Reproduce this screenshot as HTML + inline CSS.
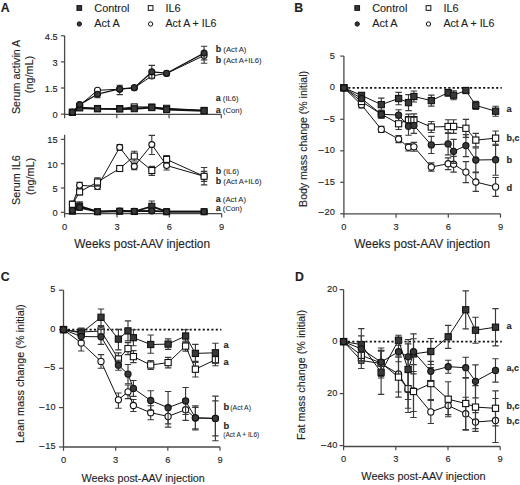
<!DOCTYPE html><html><head><meta charset="utf-8"><title>Figure</title><style>html,body{margin:0;padding:0;background:#fff;}</style></head><body><svg width="520" height="485" viewBox="0 0 520 485" style="display:block" font-family='"Liberation Sans", sans-serif' fill="#1e1e1e">
<style>text{stroke:#1e1e1e;stroke-width:0.12px;paint-order:stroke}.s{stroke-width:0.05px}</style>
<rect width="520" height="485" fill="#fff"/>
<text x="0.8" y="12" font-size="12.3" font-weight="bold">A</text>
<rect x="76.95" y="5.65" width="4.7" height="4.7" fill="#383838" stroke="#111" stroke-width="1.0"/>
<text x="94.3" y="11.5" font-size="10.9">Control</text>
<circle cx="79.3" cy="24" r="2.15" fill="#383838" stroke="#111" stroke-width="1.0"/>
<text x="94.3" y="27.2" font-size="10.9">Act A</text>
<rect x="148.25" y="5.65" width="4.7" height="4.7" fill="#fff" stroke="#111" stroke-width="1.0"/>
<text x="165.5" y="11.5" font-size="10.9">IL6</text>
<circle cx="150.6" cy="24" r="2.15" fill="#fff" stroke="#111" stroke-width="1.0"/>
<text x="165.5" y="27.2" font-size="10.9" textLength="51" lengthAdjust="spacingAndGlyphs">Act A + IL6</text>
<line x1="64.6" y1="35.8" x2="64.6" y2="114.1" stroke="#484848" stroke-width="1.3"/>
<line x1="60.9" y1="35.8" x2="64.6" y2="35.8" stroke="#484848" stroke-width="1.2"/>
<text transform="translate(57.7 39.6) scale(1 1.06)" font-size="9.3" text-anchor="end">4.5</text>
<line x1="60.9" y1="61.9" x2="64.6" y2="61.9" stroke="#484848" stroke-width="1.2"/>
<text transform="translate(57.7 65.7) scale(1 1.06)" font-size="9.3" text-anchor="end">3</text>
<line x1="60.9" y1="88" x2="64.6" y2="88" stroke="#484848" stroke-width="1.2"/>
<text transform="translate(57.7 91.8) scale(1 1.06)" font-size="9.3" text-anchor="end">1.5</text>
<line x1="60.9" y1="114.1" x2="64.6" y2="114.1" stroke="#484848" stroke-width="1.2"/>
<text transform="translate(57.7 117.9) scale(1 1.06)" font-size="9.3" text-anchor="end">0</text>
<line x1="63.95" y1="114.4" x2="221.3" y2="114.4" stroke="#484848" stroke-width="1.3"/>
<line x1="64.6" y1="114.4" x2="64.6" y2="118.2" stroke="#484848" stroke-width="1.2"/>
<line x1="116.83" y1="114.4" x2="116.83" y2="118.2" stroke="#484848" stroke-width="1.2"/>
<line x1="169.07" y1="114.4" x2="169.07" y2="118.2" stroke="#484848" stroke-width="1.2"/>
<line x1="221.3" y1="114.4" x2="221.3" y2="118.2" stroke="#484848" stroke-width="1.2"/>
<text x="19.6" y="76.9" font-size="10.7" text-anchor="middle" transform="rotate(-90 19.6 76.9)">Serum activin A</text>
<text x="32.9" y="74.6" font-size="10.8" text-anchor="middle" transform="rotate(-90 32.9 74.6)">(ng/mL)</text>
<path d="M151.8 75.9V78.2M148.6 78.2H155M204.1 55.5V59.8M200.9 59.8H207.3" fill="none" stroke="#3a3a3a" stroke-width="1.15"/>
<path d="M72.4 112.3 L79.6 105.5 L97.5 90.3 L119.7 89.2 L134.3 87.8 L151.8 75.9 L166.6 73.5 L204.1 55.5" fill="none" stroke="#111" stroke-width="1" stroke-linejoin="round"/>
<circle cx="72.4" cy="112.3" r="3" fill="#fff" stroke="#111" stroke-width="1.1"/>
<circle cx="79.6" cy="105.5" r="3" fill="#fff" stroke="#111" stroke-width="1.1"/>
<circle cx="97.5" cy="90.3" r="3" fill="#fff" stroke="#111" stroke-width="1.1"/>
<circle cx="119.7" cy="89.2" r="3" fill="#fff" stroke="#111" stroke-width="1.1"/>
<circle cx="134.3" cy="87.8" r="3" fill="#fff" stroke="#111" stroke-width="1.1"/>
<circle cx="151.8" cy="75.9" r="3" fill="#fff" stroke="#111" stroke-width="1.1"/>
<circle cx="166.6" cy="73.5" r="3" fill="#fff" stroke="#111" stroke-width="1.1"/>
<circle cx="204.1" cy="55.5" r="3" fill="#fff" stroke="#111" stroke-width="1.1"/>
<path d="M72.4 112.3 L79.6 107.3 L97.5 108.5 L119.7 108.6 L134.3 106.9 L151.8 107 L166.6 108.3 L204.1 110.4" fill="none" stroke="#111" stroke-width="1" stroke-linejoin="round"/>
<rect x="69.4" y="109.3" width="6" height="6" fill="#fff" stroke="#111" stroke-width="1.1"/>
<rect x="76.6" y="104.3" width="6" height="6" fill="#fff" stroke="#111" stroke-width="1.1"/>
<rect x="94.5" y="105.5" width="6" height="6" fill="#fff" stroke="#111" stroke-width="1.1"/>
<rect x="116.7" y="105.6" width="6" height="6" fill="#fff" stroke="#111" stroke-width="1.1"/>
<rect x="131.3" y="103.9" width="6" height="6" fill="#fff" stroke="#111" stroke-width="1.1"/>
<rect x="148.8" y="104" width="6" height="6" fill="#fff" stroke="#111" stroke-width="1.1"/>
<rect x="163.6" y="105.3" width="6" height="6" fill="#fff" stroke="#111" stroke-width="1.1"/>
<rect x="201.1" y="107.4" width="6" height="6" fill="#fff" stroke="#111" stroke-width="1.1"/>
<path d="M72.4 112.3 L79.6 107.9 L97.5 108.8 L119.7 109 L134.3 108.7 L151.8 107.6 L166.6 109.6 L204.1 110.8" fill="none" stroke="#111" stroke-width="2" stroke-linejoin="round"/>
<rect x="69.4" y="109.3" width="6" height="6" fill="#383838" stroke="#111" stroke-width="1.1"/>
<rect x="76.6" y="104.9" width="6" height="6" fill="#383838" stroke="#111" stroke-width="1.1"/>
<rect x="94.5" y="105.8" width="6" height="6" fill="#383838" stroke="#111" stroke-width="1.1"/>
<rect x="116.7" y="106" width="6" height="6" fill="#383838" stroke="#111" stroke-width="1.1"/>
<rect x="131.3" y="105.7" width="6" height="6" fill="#383838" stroke="#111" stroke-width="1.1"/>
<rect x="148.8" y="104.6" width="6" height="6" fill="#383838" stroke="#111" stroke-width="1.1"/>
<rect x="163.6" y="106.6" width="6" height="6" fill="#383838" stroke="#111" stroke-width="1.1"/>
<rect x="201.1" y="107.8" width="6" height="6" fill="#383838" stroke="#111" stroke-width="1.1"/>
<path d="M97.5 94.2V97.7M94.3 97.7H100.7M119.7 88.9V85.2M116.5 85.2H122.9M119.7 88.9V94.6M116.5 94.6H122.9M151.8 71.9V65.4M148.6 65.4H155M151.8 71.9V78.4M148.6 78.4H155M204.1 53.1V46.2M200.9 46.2H207.3M204.1 53.1V63.2M200.9 63.2H207.3" fill="none" stroke="#3a3a3a" stroke-width="1.15"/>
<path d="M72.4 112.3 L79.6 104.6 L97.5 94.2 L119.7 88.9 L134.3 87.8 L151.8 71.9 L166.6 73.2 L204.1 53.1" fill="none" stroke="#111" stroke-width="1.3" stroke-linejoin="round"/>
<circle cx="72.4" cy="112.3" r="3" fill="#383838" stroke="#111" stroke-width="1.1"/>
<circle cx="79.6" cy="104.6" r="3" fill="#383838" stroke="#111" stroke-width="1.1"/>
<circle cx="97.5" cy="94.2" r="3" fill="#383838" stroke="#111" stroke-width="1.1"/>
<circle cx="119.7" cy="88.9" r="3" fill="#383838" stroke="#111" stroke-width="1.1"/>
<circle cx="134.3" cy="87.8" r="3" fill="#383838" stroke="#111" stroke-width="1.1"/>
<circle cx="151.8" cy="71.9" r="3" fill="#383838" stroke="#111" stroke-width="1.1"/>
<circle cx="166.6" cy="73.2" r="3" fill="#383838" stroke="#111" stroke-width="1.1"/>
<circle cx="204.1" cy="53.1" r="3" fill="#383838" stroke="#111" stroke-width="1.1"/>
<text x="215.8" y="52"><tspan font-size="8.9" font-weight="bold">b</tspan><tspan class="s" font-size="7.7"> (Act A)</tspan></text>
<text x="215.8" y="62.5"><tspan font-size="8.9" font-weight="bold">b</tspan><tspan class="s" font-size="7.7"> (Act A+IL6)</tspan></text>
<text x="215.8" y="100.7"><tspan font-size="8.9" font-weight="bold">a</tspan><tspan class="s" font-size="7.7"> (IL6)</tspan></text>
<text x="215.8" y="112.5"><tspan font-size="8.9" font-weight="bold">a</tspan><tspan class="s" font-size="7.7"> (Con)</tspan></text>
<line x1="64.6" y1="134.8" x2="64.6" y2="213.6" stroke="#484848" stroke-width="1.3"/>
<line x1="60.9" y1="139.4" x2="64.6" y2="139.4" stroke="#484848" stroke-width="1.2"/>
<text transform="translate(57.7 143.3) scale(1 1.06)" font-size="9.3" text-anchor="end">15</text>
<line x1="60.9" y1="163.7" x2="64.6" y2="163.7" stroke="#484848" stroke-width="1.2"/>
<text transform="translate(57.7 167.6) scale(1 1.06)" font-size="9.3" text-anchor="end">10</text>
<line x1="60.9" y1="188" x2="64.6" y2="188" stroke="#484848" stroke-width="1.2"/>
<text transform="translate(57.7 191.9) scale(1 1.06)" font-size="9.3" text-anchor="end">5</text>
<line x1="60.9" y1="212.3" x2="64.6" y2="212.3" stroke="#484848" stroke-width="1.2"/>
<text transform="translate(57.7 216.2) scale(1 1.06)" font-size="9.3" text-anchor="end">0</text>
<line x1="63.95" y1="213.6" x2="221.7" y2="213.6" stroke="#484848" stroke-width="1.3"/>
<line x1="64.6" y1="213.6" x2="64.6" y2="217.4" stroke="#484848" stroke-width="1.2"/>
<text transform="translate(64.6 229.9) scale(1 1.06)" font-size="9.3" text-anchor="middle">0</text>
<line x1="116.97" y1="213.6" x2="116.97" y2="217.4" stroke="#484848" stroke-width="1.2"/>
<text transform="translate(116.97 229.9) scale(1 1.06)" font-size="9.3" text-anchor="middle">3</text>
<line x1="169.33" y1="213.6" x2="169.33" y2="217.4" stroke="#484848" stroke-width="1.2"/>
<text transform="translate(169.33 229.9) scale(1 1.06)" font-size="9.3" text-anchor="middle">6</text>
<line x1="221.7" y1="213.6" x2="221.7" y2="217.4" stroke="#484848" stroke-width="1.2"/>
<text transform="translate(221.7 229.9) scale(1 1.06)" font-size="9.3" text-anchor="middle">9</text>
<text x="20" y="180.05" font-size="10.8" text-anchor="middle" transform="rotate(-90 20 180.05)">Serum IL6</text>
<text x="33.6" y="176.4" font-size="10.8" text-anchor="middle" transform="rotate(-90 33.6 176.4)">(ng/mL)</text>
<path d="M72.4 204.3V201.3M69.2 201.3H75.6M72.4 204.3V207.3M69.2 207.3H75.6M79.6 185.3V182.3M76.4 182.3H82.8M79.6 185.3V188.3M76.4 188.3H82.8M97.5 186.5V183.5M94.3 183.5H100.7M97.5 186.5V189.5M94.3 189.5H100.7M119.7 147.4V144.6M116.5 144.6H122.9M119.7 147.4V150.2M116.5 150.2H122.9M134.3 166.4V163.1M131.1 163.1H137.5M134.3 166.4V169.7M131.1 169.7H137.5M151.8 144.6V135.3M148.6 135.3H155M151.8 144.6V154.5M148.6 154.5H155M166.6 165.5V161M163.4 161H169.8M166.6 165.5V170M163.4 170H169.8M204.1 176.3V171.3M200.9 171.3H207.3M204.1 176.3V181.3M200.9 181.3H207.3" fill="none" stroke="#3a3a3a" stroke-width="1.15"/>
<path d="M72.4 204.3 L79.6 185.3 L97.5 186.5 L119.7 147.4 L134.3 166.4 L151.8 144.6 L166.6 165.5 L204.1 176.3" fill="none" stroke="#111" stroke-width="1" stroke-linejoin="round"/>
<circle cx="72.4" cy="204.3" r="3" fill="#fff" stroke="#111" stroke-width="1.1"/>
<circle cx="79.6" cy="185.3" r="3" fill="#fff" stroke="#111" stroke-width="1.1"/>
<circle cx="97.5" cy="186.5" r="3" fill="#fff" stroke="#111" stroke-width="1.1"/>
<circle cx="119.7" cy="147.4" r="3" fill="#fff" stroke="#111" stroke-width="1.1"/>
<circle cx="134.3" cy="166.4" r="3" fill="#fff" stroke="#111" stroke-width="1.1"/>
<circle cx="151.8" cy="144.6" r="3" fill="#fff" stroke="#111" stroke-width="1.1"/>
<circle cx="166.6" cy="165.5" r="3" fill="#fff" stroke="#111" stroke-width="1.1"/>
<circle cx="204.1" cy="176.3" r="3" fill="#fff" stroke="#111" stroke-width="1.1"/>
<path d="M72.4 204.3V201.3M69.2 201.3H75.6M72.4 204.3V207.3M69.2 207.3H75.6M79.6 191.9V188.9M76.4 188.9H82.8M79.6 191.9V194.9M76.4 194.9H82.8M97.5 182V177.9M94.3 177.9H100.7M97.5 182V186.1M94.3 186.1H100.7M119.7 168.5V165.5M116.5 165.5H122.9M119.7 168.5V171.5M116.5 171.5H122.9M134.3 156.1V151.2M131.1 151.2H137.5M134.3 156.1V161M131.1 161H137.5M151.8 170.5V166.4M148.6 166.4H155M151.8 170.5V175.4M148.6 175.4H155M166.6 159.4V155.6M163.4 155.6H169.8M166.6 159.4V163.2M163.4 163.2H169.8M204.1 176.3V167.5M200.9 167.5H207.3M204.1 176.3V184.8M200.9 184.8H207.3" fill="none" stroke="#3a3a3a" stroke-width="1.15"/>
<path d="M72.4 204.3 L79.6 191.9 L97.5 182 L119.7 168.5 L134.3 156.1 L151.8 170.5 L166.6 159.4 L204.1 176.3" fill="none" stroke="#111" stroke-width="1" stroke-linejoin="round"/>
<rect x="69.4" y="201.3" width="6" height="6" fill="#fff" stroke="#111" stroke-width="1.1"/>
<rect x="76.6" y="188.9" width="6" height="6" fill="#fff" stroke="#111" stroke-width="1.1"/>
<rect x="94.5" y="179" width="6" height="6" fill="#fff" stroke="#111" stroke-width="1.1"/>
<rect x="116.7" y="165.5" width="6" height="6" fill="#fff" stroke="#111" stroke-width="1.1"/>
<rect x="131.3" y="153.1" width="6" height="6" fill="#fff" stroke="#111" stroke-width="1.1"/>
<rect x="148.8" y="167.5" width="6" height="6" fill="#fff" stroke="#111" stroke-width="1.1"/>
<rect x="163.6" y="156.4" width="6" height="6" fill="#fff" stroke="#111" stroke-width="1.1"/>
<rect x="201.1" y="173.3" width="6" height="6" fill="#fff" stroke="#111" stroke-width="1.1"/>
<path d="M72.4 211.2V210.2M69.2 210.2H75.6M72.4 211.2V212.2M69.2 212.2H75.6M79.6 206V201.8M76.4 201.8H82.8M79.6 206V210.2M76.4 210.2H82.8M97.5 211.7V211.2M94.3 211.2H100.7M97.5 211.7V212.2M94.3 212.2H100.7M119.7 211.2V210.2M116.5 210.2H122.9M119.7 211.2V212.2M116.5 212.2H122.9M134.3 211.5V210.5M131.1 210.5H137.5M134.3 211.5V212.5M131.1 212.5H137.5M151.8 206.3V201M148.6 201H155M151.8 206.3V211.6M148.6 211.6H155M166.6 211.7V211.2M163.4 211.2H169.8M166.6 211.7V212.2M163.4 212.2H169.8M204.1 211.7V211.2M200.9 211.2H207.3M204.1 211.7V212.2M200.9 212.2H207.3" fill="none" stroke="#3a3a3a" stroke-width="1.15"/>
<path d="M72.4 211.2 L79.6 206 L97.5 211.7 L119.7 211.2 L134.3 211.5 L151.8 206.3 L166.6 211.7 L204.1 211.7" fill="none" stroke="#111" stroke-width="1.8" stroke-linejoin="round"/>
<rect x="69.4" y="208.2" width="6" height="6" fill="#383838" stroke="#111" stroke-width="1.1"/>
<rect x="76.6" y="203" width="6" height="6" fill="#383838" stroke="#111" stroke-width="1.1"/>
<rect x="94.5" y="208.7" width="6" height="6" fill="#383838" stroke="#111" stroke-width="1.1"/>
<rect x="116.7" y="208.2" width="6" height="6" fill="#383838" stroke="#111" stroke-width="1.1"/>
<rect x="131.3" y="208.5" width="6" height="6" fill="#383838" stroke="#111" stroke-width="1.1"/>
<rect x="148.8" y="203.3" width="6" height="6" fill="#383838" stroke="#111" stroke-width="1.1"/>
<rect x="163.6" y="208.7" width="6" height="6" fill="#383838" stroke="#111" stroke-width="1.1"/>
<rect x="201.1" y="208.7" width="6" height="6" fill="#383838" stroke="#111" stroke-width="1.1"/>
<path d="M72.4 210.5V209.5M69.2 209.5H75.6M72.4 210.5V211.5M69.2 211.5H75.6M79.6 207.5V204.5M76.4 204.5H82.8M79.6 207.5V210.5M76.4 210.5H82.8M97.5 211.7V211.2M94.3 211.2H100.7M97.5 211.7V212.2M94.3 212.2H100.7M119.7 211V209.5M116.5 209.5H122.9M119.7 211V212.5M116.5 212.5H122.9M134.3 211.2V210.2M131.1 210.2H137.5M134.3 211.2V212.2M131.1 212.2H137.5M151.8 210.9V208.9M148.6 208.9H155M151.8 210.9V212.9M148.6 212.9H155M166.6 211.7V211.2M163.4 211.2H169.8M166.6 211.7V212.2M163.4 212.2H169.8M204.1 211.7V211.2M200.9 211.2H207.3M204.1 211.7V212.2M200.9 212.2H207.3" fill="none" stroke="#3a3a3a" stroke-width="1.15"/>
<path d="M72.4 210.5 L79.6 207.5 L97.5 211.7 L119.7 211 L134.3 211.2 L151.8 210.9 L166.6 211.7 L204.1 211.7" fill="none" stroke="#111" stroke-width="1.8" stroke-linejoin="round"/>
<circle cx="72.4" cy="210.5" r="3" fill="#383838" stroke="#111" stroke-width="1.1"/>
<circle cx="79.6" cy="207.5" r="3" fill="#383838" stroke="#111" stroke-width="1.1"/>
<circle cx="97.5" cy="211.7" r="3" fill="#383838" stroke="#111" stroke-width="1.1"/>
<circle cx="119.7" cy="211" r="3" fill="#383838" stroke="#111" stroke-width="1.1"/>
<circle cx="134.3" cy="211.2" r="3" fill="#383838" stroke="#111" stroke-width="1.1"/>
<circle cx="151.8" cy="210.9" r="3" fill="#383838" stroke="#111" stroke-width="1.1"/>
<circle cx="166.6" cy="211.7" r="3" fill="#383838" stroke="#111" stroke-width="1.1"/>
<circle cx="204.1" cy="211.7" r="3" fill="#383838" stroke="#111" stroke-width="1.1"/>
<text x="215.8" y="173.55"><tspan font-size="8.9" font-weight="bold">b</tspan><tspan class="s" font-size="7.7"> (IL6)</tspan></text>
<text x="215.8" y="184.45"><tspan font-size="8.9" font-weight="bold">b</tspan><tspan class="s" font-size="7.7"> (Act A+IL6)</tspan></text>
<text x="215.8" y="201.7"><tspan font-size="8.9" font-weight="bold">a</tspan><tspan class="s" font-size="7.7"> (Act A)</tspan></text>
<text x="215.8" y="210.7"><tspan font-size="8.9" font-weight="bold">a</tspan><tspan class="s" font-size="7.7"> (Con)</tspan></text>
<text x="142.2" y="248.2" font-size="11.9" text-anchor="middle">Weeks post-AAV injection</text>
<text x="294.2" y="12" font-size="12.3" font-weight="bold">B</text>
<rect x="354.85" y="5.65" width="4.7" height="4.7" fill="#383838" stroke="#111" stroke-width="1.0"/>
<text x="372.2" y="11.5" font-size="10.9">Control</text>
<circle cx="357.2" cy="24" r="2.15" fill="#383838" stroke="#111" stroke-width="1.0"/>
<text x="372.2" y="27.2" font-size="10.9">Act A</text>
<rect x="426.15" y="5.65" width="4.7" height="4.7" fill="#fff" stroke="#111" stroke-width="1.0"/>
<text x="443.4" y="11.5" font-size="10.9">IL6</text>
<circle cx="428.5" cy="24" r="2.15" fill="#fff" stroke="#111" stroke-width="1.0"/>
<text x="443.4" y="27.2" font-size="10.9" textLength="51" lengthAdjust="spacingAndGlyphs">Act A + IL6</text>
<line x1="343.9" y1="56.1" x2="343.9" y2="213.9" stroke="#484848" stroke-width="1.3"/>
<line x1="340.2" y1="56.1" x2="343.9" y2="56.1" stroke="#484848" stroke-width="1.2"/>
<text transform="translate(334.9 58.7) scale(1 1.06)" font-size="9.3" text-anchor="end">5</text>
<line x1="340.2" y1="87.8" x2="343.9" y2="87.8" stroke="#484848" stroke-width="1.2"/>
<text transform="translate(334.9 89.6) scale(1 1.06)" font-size="9.3" text-anchor="end">0</text>
<line x1="340.2" y1="119.3" x2="343.9" y2="119.3" stroke="#484848" stroke-width="1.2"/>
<text transform="translate(334.9 121.5) scale(1 1.06)" font-size="9.3" text-anchor="end">–<tspan dx="0.8">5</tspan></text>
<line x1="340.2" y1="150.8" x2="343.9" y2="150.8" stroke="#484848" stroke-width="1.2"/>
<text transform="translate(334.9 153.3) scale(1 1.06)" font-size="9.3" text-anchor="end">–<tspan dx="0.8">10</tspan></text>
<line x1="340.2" y1="182.3" x2="343.9" y2="182.3" stroke="#484848" stroke-width="1.2"/>
<text transform="translate(334.9 184.5) scale(1 1.06)" font-size="9.3" text-anchor="end">–<tspan dx="0.8">15</tspan></text>
<line x1="340.2" y1="213.8" x2="343.9" y2="213.8" stroke="#484848" stroke-width="1.2"/>
<text transform="translate(334.9 215.1) scale(1 1.06)" font-size="9.3" text-anchor="end">–<tspan dx="0.8">20</tspan></text>
<line x1="343.25" y1="213.9" x2="500.5" y2="213.9" stroke="#484848" stroke-width="1.3"/>
<line x1="343.9" y1="213.9" x2="343.9" y2="217.7" stroke="#484848" stroke-width="1.2"/>
<text transform="translate(343.9 230.2) scale(1 1.06)" font-size="9.3" text-anchor="middle">0</text>
<line x1="396.1" y1="213.9" x2="396.1" y2="217.7" stroke="#484848" stroke-width="1.2"/>
<text transform="translate(396.1 230.2) scale(1 1.06)" font-size="9.3" text-anchor="middle">3</text>
<line x1="448.3" y1="213.9" x2="448.3" y2="217.7" stroke="#484848" stroke-width="1.2"/>
<text transform="translate(448.3 230.2) scale(1 1.06)" font-size="9.3" text-anchor="middle">6</text>
<line x1="500.5" y1="213.9" x2="500.5" y2="217.7" stroke="#484848" stroke-width="1.2"/>
<text transform="translate(500.5 230.2) scale(1 1.06)" font-size="9.3" text-anchor="middle">9</text>
<line x1="343.9" y1="87.8" x2="501.8" y2="87.8" stroke="#111" stroke-width="1.7" stroke-dasharray="2.1 2.25"/>
<text x="307.4" y="138.9" font-size="10.55" text-anchor="middle" transform="rotate(-90 307.4 138.9)">Body mass change (% initial)</text>
<text x="422.2" y="248.2" font-size="11.9" text-anchor="middle">Weeks post-AAV injection</text>
<path d="M361.5 104.8V101.8M358.3 101.8H364.7M361.5 104.8V107.8M358.3 107.8H364.7M381.3 129.4V126.4M378.1 126.4H384.5M381.3 129.4V132.4M378.1 132.4H384.5M398.6 139.1V135.6M395.4 135.6H401.8M398.6 139.1V142.6M395.4 142.6H401.8M408.5 147.3V143.6M405.3 143.6H411.7M408.5 147.3V151M405.3 151H411.7M413.9 146.8V142.4M410.7 142.4H417.1M413.9 146.8V151.2M410.7 151.2H417.1M431.3 167V162.9M428.1 162.9H434.5M431.3 167V171.1M428.1 171.1H434.5M448.1 163.7V157.8M444.9 157.8H451.3M448.1 163.7V169.6M444.9 169.6H451.3M453.6 164.2V156.3M450.4 156.3H456.8M453.6 164.2V172.1M450.4 172.1H456.8M465.9 172.1V161.6M462.7 161.6H469.1M465.9 172.1V182.6M462.7 182.6H469.1M475.8 182V172.6M472.6 172.6H479M475.8 182V191.4M472.6 191.4H479M495.6 186.9V177.5M492.4 177.5H498.8M495.6 186.9V196.3M492.4 196.3H498.8" fill="none" stroke="#3a3a3a" stroke-width="1.15"/>
<path d="M343.9 87.8 L361.5 104.8 L381.3 129.4 L398.6 139.1 L408.5 147.3 L413.9 146.8 L431.3 167 L448.1 163.7 L453.6 164.2 L465.9 172.1 L475.8 182 L495.6 186.9" fill="none" stroke="#111" stroke-width="1" stroke-linejoin="round"/>
<circle cx="343.9" cy="87.8" r="3.1" fill="#fff" stroke="#111" stroke-width="1.1"/>
<circle cx="361.5" cy="104.8" r="3.1" fill="#fff" stroke="#111" stroke-width="1.1"/>
<circle cx="381.3" cy="129.4" r="3.1" fill="#fff" stroke="#111" stroke-width="1.1"/>
<circle cx="398.6" cy="139.1" r="3.1" fill="#fff" stroke="#111" stroke-width="1.1"/>
<circle cx="408.5" cy="147.3" r="3.1" fill="#fff" stroke="#111" stroke-width="1.1"/>
<circle cx="413.9" cy="146.8" r="3.1" fill="#fff" stroke="#111" stroke-width="1.1"/>
<circle cx="431.3" cy="167" r="3.1" fill="#fff" stroke="#111" stroke-width="1.1"/>
<circle cx="448.1" cy="163.7" r="3.1" fill="#fff" stroke="#111" stroke-width="1.1"/>
<circle cx="453.6" cy="164.2" r="3.1" fill="#fff" stroke="#111" stroke-width="1.1"/>
<circle cx="465.9" cy="172.1" r="3.1" fill="#fff" stroke="#111" stroke-width="1.1"/>
<circle cx="475.8" cy="182" r="3.1" fill="#fff" stroke="#111" stroke-width="1.1"/>
<circle cx="495.6" cy="186.9" r="3.1" fill="#fff" stroke="#111" stroke-width="1.1"/>
<path d="M361.5 101.5V98.5M358.3 98.5H364.7M361.5 101.5V104.5M358.3 104.5H364.7M381.3 114.2V110.2M378.1 110.2H384.5M381.3 114.2V118.2M378.1 118.2H384.5M398.6 123.7V117.9M395.4 117.9H401.8M398.6 123.7V129.5M395.4 129.5H401.8M408.5 119.6V114.1M405.3 114.1H411.7M408.5 119.6V125.1M405.3 125.1H411.7M413.9 119.6V113.8M410.7 113.8H417.1M413.9 119.6V125.4M410.7 125.4H417.1M431.3 127V121.5M428.1 121.5H434.5M431.3 127V132.5M428.1 132.5H434.5M448.1 126.5V119.7M444.9 119.7H451.3M448.1 126.5V133.3M444.9 133.3H451.3M453.6 126.5V119.7M450.4 119.7H456.8M453.6 126.5V133.3M450.4 133.3H456.8M465.9 128.3V119.3M462.7 119.3H469.1M465.9 128.3V137.3M462.7 137.3H469.1M475.8 140.1V133.4M472.6 133.4H479M475.8 140.1V146.8M472.6 146.8H479M495.6 138.2V131M492.4 131H498.8M495.6 138.2V145.4M492.4 145.4H498.8" fill="none" stroke="#3a3a3a" stroke-width="1.15"/>
<path d="M343.9 87.8 L361.5 101.5 L381.3 114.2 L398.6 123.7 L408.5 119.6 L413.9 119.6 L431.3 127 L448.1 126.5 L453.6 126.5 L465.9 128.3 L475.8 140.1 L495.6 138.2" fill="none" stroke="#111" stroke-width="1" stroke-linejoin="round"/>
<rect x="340.8" y="84.7" width="6.2" height="6.2" fill="#fff" stroke="#111" stroke-width="1.1"/>
<rect x="358.4" y="98.4" width="6.2" height="6.2" fill="#fff" stroke="#111" stroke-width="1.1"/>
<rect x="378.2" y="111.1" width="6.2" height="6.2" fill="#fff" stroke="#111" stroke-width="1.1"/>
<rect x="395.5" y="120.6" width="6.2" height="6.2" fill="#fff" stroke="#111" stroke-width="1.1"/>
<rect x="405.4" y="116.5" width="6.2" height="6.2" fill="#fff" stroke="#111" stroke-width="1.1"/>
<rect x="410.8" y="116.5" width="6.2" height="6.2" fill="#fff" stroke="#111" stroke-width="1.1"/>
<rect x="428.2" y="123.9" width="6.2" height="6.2" fill="#fff" stroke="#111" stroke-width="1.1"/>
<rect x="445" y="123.4" width="6.2" height="6.2" fill="#fff" stroke="#111" stroke-width="1.1"/>
<rect x="450.5" y="123.4" width="6.2" height="6.2" fill="#fff" stroke="#111" stroke-width="1.1"/>
<rect x="462.8" y="125.2" width="6.2" height="6.2" fill="#fff" stroke="#111" stroke-width="1.1"/>
<rect x="472.7" y="137" width="6.2" height="6.2" fill="#fff" stroke="#111" stroke-width="1.1"/>
<rect x="492.5" y="135.1" width="6.2" height="6.2" fill="#fff" stroke="#111" stroke-width="1.1"/>
<path d="M361.5 95.4V92.9M358.3 92.9H364.7M361.5 95.4V97.9M358.3 97.9H364.7M381.3 104.6V98.1M378.1 98.1H384.5M381.3 104.6V111.1M378.1 111.1H384.5M398.6 98.5V92.3M395.4 92.3H401.8M398.6 98.5V104.7M395.4 104.7H401.8M408.5 102.6V94.6M405.3 94.6H411.7M408.5 102.6V110.6M405.3 110.6H411.7M413.9 96.5V91M410.7 91H417.1M413.9 96.5V102M410.7 102H417.1M431.3 100.6V95.1M428.1 95.1H434.5M431.3 100.6V106.1M428.1 106.1H434.5M448.1 92.7V89.2M444.9 89.2H451.3M448.1 92.7V96.2M444.9 96.2H451.3M453.6 95.2V90.7M450.4 90.7H456.8M453.6 95.2V99.7M450.4 99.7H456.8M465.9 90.5V88.5M462.7 88.5H469.1M465.9 90.5V92.5M462.7 92.5H469.1M475.8 105.4V101.4M472.6 101.4H479M475.8 105.4V109.4M472.6 109.4H479M495.6 111.2V106.2M492.4 106.2H498.8M495.6 111.2V116.2M492.4 116.2H498.8" fill="none" stroke="#3a3a3a" stroke-width="1.15"/>
<path d="M343.9 87.8 L361.5 95.4 L381.3 104.6 L398.6 98.5 L408.5 102.6 L413.9 96.5 L431.3 100.6 L448.1 92.7 L453.6 95.2 L465.9 90.5 L475.8 105.4 L495.6 111.2" fill="none" stroke="#111" stroke-width="1" stroke-linejoin="round"/>
<rect x="340.8" y="84.7" width="6.2" height="6.2" fill="#383838" stroke="#111" stroke-width="1.1"/>
<rect x="358.4" y="92.3" width="6.2" height="6.2" fill="#383838" stroke="#111" stroke-width="1.1"/>
<rect x="378.2" y="101.5" width="6.2" height="6.2" fill="#383838" stroke="#111" stroke-width="1.1"/>
<rect x="395.5" y="95.4" width="6.2" height="6.2" fill="#383838" stroke="#111" stroke-width="1.1"/>
<rect x="405.4" y="99.5" width="6.2" height="6.2" fill="#383838" stroke="#111" stroke-width="1.1"/>
<rect x="410.8" y="93.4" width="6.2" height="6.2" fill="#383838" stroke="#111" stroke-width="1.1"/>
<rect x="428.2" y="97.5" width="6.2" height="6.2" fill="#383838" stroke="#111" stroke-width="1.1"/>
<rect x="445" y="89.6" width="6.2" height="6.2" fill="#383838" stroke="#111" stroke-width="1.1"/>
<rect x="450.5" y="92.1" width="6.2" height="6.2" fill="#383838" stroke="#111" stroke-width="1.1"/>
<rect x="462.8" y="87.4" width="6.2" height="6.2" fill="#383838" stroke="#111" stroke-width="1.1"/>
<rect x="472.7" y="102.3" width="6.2" height="6.2" fill="#383838" stroke="#111" stroke-width="1.1"/>
<rect x="492.5" y="108.1" width="6.2" height="6.2" fill="#383838" stroke="#111" stroke-width="1.1"/>
<path d="M361.5 98.5V95.5M358.3 95.5H364.7M361.5 98.5V101.5M358.3 101.5H364.7M381.3 114.2V110.2M378.1 110.2H384.5M381.3 114.2V118.2M378.1 118.2H384.5M398.6 115.1V109.7M395.4 109.7H401.8M398.6 115.1V120.5M395.4 120.5H401.8M408.5 126.2V117.2M405.3 117.2H411.7M408.5 126.2V135.2M405.3 135.2H411.7M413.9 125.4V117.4M410.7 117.4H417.1M413.9 125.4V133.4M410.7 133.4H417.1M431.3 144.9V136.3M428.1 136.3H434.5M431.3 144.9V153.5M428.1 153.5H434.5M448.1 143.9V132.9M444.9 132.9H451.3M448.1 143.9V154.9M444.9 154.9H451.3M453.6 151.3V139.3M450.4 139.3H456.8M453.6 151.3V163.3M450.4 163.3H456.8M465.9 145.6V134.6M462.7 134.6H469.1M465.9 145.6V156.6M462.7 156.6H469.1M475.8 160V148M472.6 148H479M475.8 160V172M472.6 172H479M495.6 159.7V144.2M492.4 144.2H498.8M495.6 159.7V175.2M492.4 175.2H498.8" fill="none" stroke="#3a3a3a" stroke-width="1.15"/>
<path d="M343.9 87.8 L361.5 98.5 L381.3 114.2 L398.6 115.1 L408.5 126.2 L413.9 125.4 L431.3 144.9 L448.1 143.9 L453.6 151.3 L465.9 145.6 L475.8 160 L495.6 159.7" fill="none" stroke="#111" stroke-width="1" stroke-linejoin="round"/>
<circle cx="343.9" cy="87.8" r="3.1" fill="#383838" stroke="#111" stroke-width="1.1"/>
<circle cx="361.5" cy="98.5" r="3.1" fill="#383838" stroke="#111" stroke-width="1.1"/>
<circle cx="381.3" cy="114.2" r="3.1" fill="#383838" stroke="#111" stroke-width="1.1"/>
<circle cx="398.6" cy="115.1" r="3.1" fill="#383838" stroke="#111" stroke-width="1.1"/>
<circle cx="408.5" cy="126.2" r="3.1" fill="#383838" stroke="#111" stroke-width="1.1"/>
<circle cx="413.9" cy="125.4" r="3.1" fill="#383838" stroke="#111" stroke-width="1.1"/>
<circle cx="431.3" cy="144.9" r="3.1" fill="#383838" stroke="#111" stroke-width="1.1"/>
<circle cx="448.1" cy="143.9" r="3.1" fill="#383838" stroke="#111" stroke-width="1.1"/>
<circle cx="453.6" cy="151.3" r="3.1" fill="#383838" stroke="#111" stroke-width="1.1"/>
<circle cx="465.9" cy="145.6" r="3.1" fill="#383838" stroke="#111" stroke-width="1.1"/>
<circle cx="475.8" cy="160" r="3.1" fill="#383838" stroke="#111" stroke-width="1.1"/>
<circle cx="495.6" cy="159.7" r="3.1" fill="#383838" stroke="#111" stroke-width="1.1"/>
<text x="506.6" y="111.6" font-size="9.3" font-weight="bold">a</text>
<text x="506.6" y="141.3" font-size="9.0" font-weight="bold">b,c</text>
<text x="506.6" y="162.8" font-size="9.3" font-weight="bold">b</text>
<text x="506.6" y="190.6" font-size="9.3" font-weight="bold">d</text>
<text x="0.8" y="281.3" font-size="12.3" font-weight="bold">C</text>
<line x1="63.5" y1="290.2" x2="63.5" y2="447" stroke="#484848" stroke-width="1.3"/>
<line x1="59" y1="290.2" x2="63.5" y2="290.2" stroke="#484848" stroke-width="1.2"/>
<text transform="translate(55.5 292.3) scale(1 1.06)" font-size="9.2" text-anchor="end">5</text>
<line x1="59" y1="329.6" x2="63.5" y2="329.6" stroke="#484848" stroke-width="1.2"/>
<text transform="translate(55.5 331.7) scale(1 1.06)" font-size="9.2" text-anchor="end">0</text>
<line x1="59" y1="368.3" x2="63.5" y2="368.3" stroke="#484848" stroke-width="1.2"/>
<text transform="translate(55.5 370.4) scale(1 1.06)" font-size="9.2" text-anchor="end">–<tspan dx="0.8">5</tspan></text>
<line x1="59" y1="407.6" x2="63.5" y2="407.6" stroke="#484848" stroke-width="1.2"/>
<text transform="translate(55.5 409.7) scale(1 1.06)" font-size="9.2" text-anchor="end">–<tspan dx="0.8">10</tspan></text>
<line x1="59" y1="447" x2="63.5" y2="447" stroke="#484848" stroke-width="1.2"/>
<text transform="translate(55.5 449.1) scale(1 1.06)" font-size="9.2" text-anchor="end">–<tspan dx="0.8">15</tspan></text>
<line x1="62.85" y1="447" x2="220" y2="447" stroke="#484848" stroke-width="1.3"/>
<line x1="63.5" y1="447" x2="63.5" y2="450.8" stroke="#484848" stroke-width="1.2"/>
<text transform="translate(63.5 463.4) scale(1 1.06)" font-size="9.3" text-anchor="middle">0</text>
<line x1="115.67" y1="447" x2="115.67" y2="450.8" stroke="#484848" stroke-width="1.2"/>
<text transform="translate(115.67 463.4) scale(1 1.06)" font-size="9.3" text-anchor="middle">3</text>
<line x1="167.83" y1="447" x2="167.83" y2="450.8" stroke="#484848" stroke-width="1.2"/>
<text transform="translate(167.83 463.4) scale(1 1.06)" font-size="9.3" text-anchor="middle">6</text>
<line x1="220" y1="447" x2="220" y2="450.8" stroke="#484848" stroke-width="1.2"/>
<text transform="translate(220 463.4) scale(1 1.06)" font-size="9.3" text-anchor="middle">9</text>
<line x1="63.5" y1="329.6" x2="221.3" y2="329.6" stroke="#111" stroke-width="1.7" stroke-dasharray="2.1 2.25"/>
<text x="24.3" y="373.6" font-size="10.8" text-anchor="middle" transform="rotate(-90 24.3 373.6)">Lean mass change (% initial)</text>
<text x="143.2" y="481.6" font-size="10.8" text-anchor="middle">Weeks post-AAV injection</text>
<path d="M81.2 342.9V334.8M78 334.8H84.4M81.2 342.9V351M78 351H84.4M101 361.4V354.6M97.8 354.6H104.2M101 361.4V368.2M97.8 368.2H104.2M118.4 399.8V393M115.2 393H121.6M118.4 399.8V408.2M115.2 408.2H121.6M128 391.8V385M124.8 385H131.2M128 391.8V398.6M124.8 398.6H131.2M133.4 405.5V399.5M130.2 399.5H136.6M133.4 405.5V411.5M130.2 411.5H136.6M150.7 412.7V405.7M147.5 405.7H153.9M150.7 412.7V419.7M147.5 419.7H153.9M168.1 416.4V405.7M164.9 405.7H171.3M168.1 416.4V427.1M164.9 427.1H171.3M185.6 409.7V399M182.4 399H188.8M185.6 409.7V420.4M182.4 420.4H188.8M195.4 418V407.3M192.2 407.3H198.6M195.4 418V428.7M192.2 428.7H198.6M215.4 418.4V400.9M212.2 400.9H218.6M215.4 418.4V435.9M212.2 435.9H218.6" fill="none" stroke="#3a3a3a" stroke-width="1.15"/>
<path d="M63.5 329.6 L81.2 342.9 L101 361.4 L118.4 399.8 L128 391.8 L133.4 405.5 L150.7 412.7 L168.1 416.4 L185.6 409.7 L195.4 418 L215.4 418.4" fill="none" stroke="#111" stroke-width="1" stroke-linejoin="round"/>
<circle cx="63.5" cy="329.6" r="3.1" fill="#fff" stroke="#111" stroke-width="1.1"/>
<circle cx="81.2" cy="342.9" r="3.1" fill="#fff" stroke="#111" stroke-width="1.1"/>
<circle cx="101" cy="361.4" r="3.1" fill="#fff" stroke="#111" stroke-width="1.1"/>
<circle cx="118.4" cy="399.8" r="3.1" fill="#fff" stroke="#111" stroke-width="1.1"/>
<circle cx="128" cy="391.8" r="3.1" fill="#fff" stroke="#111" stroke-width="1.1"/>
<circle cx="133.4" cy="405.5" r="3.1" fill="#fff" stroke="#111" stroke-width="1.1"/>
<circle cx="150.7" cy="412.7" r="3.1" fill="#fff" stroke="#111" stroke-width="1.1"/>
<circle cx="168.1" cy="416.4" r="3.1" fill="#fff" stroke="#111" stroke-width="1.1"/>
<circle cx="185.6" cy="409.7" r="3.1" fill="#fff" stroke="#111" stroke-width="1.1"/>
<circle cx="195.4" cy="418" r="3.1" fill="#fff" stroke="#111" stroke-width="1.1"/>
<circle cx="215.4" cy="418.4" r="3.1" fill="#fff" stroke="#111" stroke-width="1.1"/>
<path d="M81.2 332V328M78 328H84.4M81.2 332V336M78 336H84.4M101 331V326.4M97.8 326.4H104.2M101 331V335.6M97.8 335.6H104.2M118.4 358.9V352.9M115.2 352.9H121.6M118.4 358.9V364.9M115.2 364.9H121.6M128 348.6V342.6M124.8 342.6H131.2M128 348.6V354.6M124.8 354.6H131.2M133.4 356.6V350.6M130.2 350.6H136.6M133.4 356.6V362.6M130.2 362.6H136.6M150.7 365V360.5M147.5 360.5H153.9M150.7 365V369.5M147.5 369.5H153.9M168.1 362.6V357.4M164.9 357.4H171.3M168.1 362.6V367.8M164.9 367.8H171.3M185.6 346.1V341.1M182.4 341.1H188.8M185.6 346.1V351.1M182.4 351.1H188.8M195.4 369.2V361.4M192.2 361.4H198.6M195.4 369.2V377M192.2 377H198.6M215.4 359.7V353.7M212.2 353.7H218.6M215.4 359.7V365.7M212.2 365.7H218.6" fill="none" stroke="#3a3a3a" stroke-width="1.15"/>
<path d="M63.5 329.6 L81.2 332 L101 331 L118.4 358.9 L128 348.6 L133.4 356.6 L150.7 365 L168.1 362.6 L185.6 346.1 L195.4 369.2 L215.4 359.7" fill="none" stroke="#111" stroke-width="1" stroke-linejoin="round"/>
<rect x="60.4" y="326.5" width="6.2" height="6.2" fill="#fff" stroke="#111" stroke-width="1.1"/>
<rect x="78.1" y="328.9" width="6.2" height="6.2" fill="#fff" stroke="#111" stroke-width="1.1"/>
<rect x="97.9" y="327.9" width="6.2" height="6.2" fill="#fff" stroke="#111" stroke-width="1.1"/>
<rect x="115.3" y="355.8" width="6.2" height="6.2" fill="#fff" stroke="#111" stroke-width="1.1"/>
<rect x="124.9" y="345.5" width="6.2" height="6.2" fill="#fff" stroke="#111" stroke-width="1.1"/>
<rect x="130.3" y="353.5" width="6.2" height="6.2" fill="#fff" stroke="#111" stroke-width="1.1"/>
<rect x="147.6" y="361.9" width="6.2" height="6.2" fill="#fff" stroke="#111" stroke-width="1.1"/>
<rect x="165" y="359.5" width="6.2" height="6.2" fill="#fff" stroke="#111" stroke-width="1.1"/>
<rect x="182.5" y="343" width="6.2" height="6.2" fill="#fff" stroke="#111" stroke-width="1.1"/>
<rect x="192.3" y="366.1" width="6.2" height="6.2" fill="#fff" stroke="#111" stroke-width="1.1"/>
<rect x="212.3" y="356.6" width="6.2" height="6.2" fill="#fff" stroke="#111" stroke-width="1.1"/>
<path d="M81.2 333V329M78 329H84.4M81.2 333V337M78 337H84.4M101 317.3V309M97.8 309H104.2M101 317.3V325.6M97.8 325.6H104.2M118.4 339.1V329.3M115.2 329.3H121.6M118.4 339.1V349.8M115.2 349.8H121.6M128 330.9V320.9M124.8 320.9H131.2M128 330.9V340.9M124.8 340.9H131.2M133.4 337.7V329.7M130.2 329.7H136.6M133.4 337.7V345.7M130.2 345.7H136.6M150.7 344.5V335M147.5 335H153.9M150.7 344.5V353.2M147.5 353.2H153.9M168.1 344.1V338.9M164.9 338.9H171.3M168.1 344.1V349.3M164.9 349.3H171.3M185.6 336V329.7M182.4 329.7H188.8M185.6 336V342.3M182.4 342.3H188.8M195.4 353.4V344.4M192.2 344.4H198.6M195.4 353.4V362.4M192.2 362.4H198.6M215.4 352.8V343.2M212.2 343.2H218.6M215.4 352.8V363.5M212.2 363.5H218.6" fill="none" stroke="#3a3a3a" stroke-width="1.15"/>
<path d="M63.5 329.6 L81.2 333 L101 317.3 L118.4 339.1 L128 330.9 L133.4 337.7 L150.7 344.5 L168.1 344.1 L185.6 336 L195.4 353.4 L215.4 352.8" fill="none" stroke="#111" stroke-width="1" stroke-linejoin="round"/>
<rect x="60.4" y="326.5" width="6.2" height="6.2" fill="#383838" stroke="#111" stroke-width="1.1"/>
<rect x="78.1" y="329.9" width="6.2" height="6.2" fill="#383838" stroke="#111" stroke-width="1.1"/>
<rect x="97.9" y="314.2" width="6.2" height="6.2" fill="#383838" stroke="#111" stroke-width="1.1"/>
<rect x="115.3" y="336" width="6.2" height="6.2" fill="#383838" stroke="#111" stroke-width="1.1"/>
<rect x="124.9" y="327.8" width="6.2" height="6.2" fill="#383838" stroke="#111" stroke-width="1.1"/>
<rect x="130.3" y="334.6" width="6.2" height="6.2" fill="#383838" stroke="#111" stroke-width="1.1"/>
<rect x="147.6" y="341.4" width="6.2" height="6.2" fill="#383838" stroke="#111" stroke-width="1.1"/>
<rect x="165" y="341" width="6.2" height="6.2" fill="#383838" stroke="#111" stroke-width="1.1"/>
<rect x="182.5" y="332.9" width="6.2" height="6.2" fill="#383838" stroke="#111" stroke-width="1.1"/>
<rect x="192.3" y="350.3" width="6.2" height="6.2" fill="#383838" stroke="#111" stroke-width="1.1"/>
<rect x="212.3" y="349.7" width="6.2" height="6.2" fill="#383838" stroke="#111" stroke-width="1.1"/>
<path d="M81.2 336.5V332.5M78 332.5H84.4M81.2 336.5V340.5M78 340.5H84.4M101 336.8V329.3M97.8 329.3H104.2M101 336.8V344.3M97.8 344.3H104.2M118.4 365.2V360.2M115.2 360.2H121.6M118.4 365.2V370.2M115.2 370.2H121.6M128 374.1V364.5M124.8 364.5H131.2M128 374.1V383.7M124.8 383.7H131.2M133.4 388.4V380.5M130.2 380.5H136.6M133.4 388.4V396.3M130.2 396.3H136.6M150.7 400.5V390.7M147.5 390.7H153.9M150.7 400.5V410.3M147.5 410.3H153.9M168.1 407.7V391.5M164.9 391.5H171.3M168.1 407.7V423.9M164.9 423.9H171.3M185.6 401V387.5M182.4 387.5H188.8M185.6 401V414.5M182.4 414.5H188.8M195.4 417.8V405.8M192.2 405.8H198.6M195.4 417.8V429.8M192.2 429.8H198.6M215.4 418.4V396.1M212.2 396.1H218.6M215.4 418.4V440.7M212.2 440.7H218.6" fill="none" stroke="#3a3a3a" stroke-width="1.15"/>
<path d="M63.5 329.6 L81.2 336.5 L101 336.8 L118.4 365.2 L128 374.1 L133.4 388.4 L150.7 400.5 L168.1 407.7 L185.6 401 L195.4 417.8 L215.4 418.4" fill="none" stroke="#111" stroke-width="1" stroke-linejoin="round"/>
<circle cx="63.5" cy="329.6" r="3.1" fill="#383838" stroke="#111" stroke-width="1.1"/>
<circle cx="81.2" cy="336.5" r="3.1" fill="#383838" stroke="#111" stroke-width="1.1"/>
<circle cx="101" cy="336.8" r="3.1" fill="#383838" stroke="#111" stroke-width="1.1"/>
<circle cx="118.4" cy="365.2" r="3.1" fill="#383838" stroke="#111" stroke-width="1.1"/>
<circle cx="128" cy="374.1" r="3.1" fill="#383838" stroke="#111" stroke-width="1.1"/>
<circle cx="133.4" cy="388.4" r="3.1" fill="#383838" stroke="#111" stroke-width="1.1"/>
<circle cx="150.7" cy="400.5" r="3.1" fill="#383838" stroke="#111" stroke-width="1.1"/>
<circle cx="168.1" cy="407.7" r="3.1" fill="#383838" stroke="#111" stroke-width="1.1"/>
<circle cx="185.6" cy="401" r="3.1" fill="#383838" stroke="#111" stroke-width="1.1"/>
<circle cx="195.4" cy="417.8" r="3.1" fill="#383838" stroke="#111" stroke-width="1.1"/>
<circle cx="215.4" cy="418.4" r="3.1" fill="#383838" stroke="#111" stroke-width="1.1"/>
<text x="223.4" y="348.3" font-size="9.3" font-weight="bold">a</text>
<text x="223.4" y="364.8" font-size="9.3" font-weight="bold">a</text>
<text x="223.6" y="409.9"><tspan font-size="9.3" font-weight="bold">b</tspan><tspan class="s" font-size="6.9" dx="-0.9"> (Act A)</tspan></text>
<text x="223.6" y="428.6" font-size="9.3" font-weight="bold">b</text>
<text class="s" x="223.2" y="436.9" font-size="6.6">(Act A + IL6)</text>
<text x="295" y="281.3" font-size="12.3" font-weight="bold">D</text>
<line x1="343.6" y1="289.6" x2="343.6" y2="446.5" stroke="#484848" stroke-width="1.3"/>
<line x1="339.6" y1="289.6" x2="343.6" y2="289.6" stroke="#484848" stroke-width="1.2"/>
<text transform="translate(337.4 292.3) scale(1 1.06)" font-size="9.3" text-anchor="end">20</text>
<line x1="339.6" y1="341.6" x2="343.6" y2="341.6" stroke="#484848" stroke-width="1.2"/>
<text transform="translate(337.4 344.3) scale(1 1.06)" font-size="9.3" text-anchor="end">0</text>
<line x1="339.6" y1="393.6" x2="343.6" y2="393.6" stroke="#484848" stroke-width="1.2"/>
<text transform="translate(337.4 396.3) scale(1 1.06)" font-size="9.3" text-anchor="end">20</text>
<line x1="339.6" y1="445.6" x2="343.6" y2="445.6" stroke="#484848" stroke-width="1.2"/>
<text transform="translate(337.4 448.3) scale(1 1.06)" font-size="9.3" text-anchor="end">–<tspan dx="0.8">40</tspan></text>
<line x1="342.95" y1="446.5" x2="500.2" y2="446.5" stroke="#484848" stroke-width="1.3"/>
<line x1="343.6" y1="446.5" x2="343.6" y2="450.3" stroke="#484848" stroke-width="1.2"/>
<text transform="translate(343.6 462.3) scale(1 1.06)" font-size="9.3" text-anchor="middle">0</text>
<line x1="395.8" y1="446.5" x2="395.8" y2="450.3" stroke="#484848" stroke-width="1.2"/>
<text transform="translate(395.8 462.3) scale(1 1.06)" font-size="9.3" text-anchor="middle">3</text>
<line x1="448" y1="446.5" x2="448" y2="450.3" stroke="#484848" stroke-width="1.2"/>
<text transform="translate(448 462.3) scale(1 1.06)" font-size="9.3" text-anchor="middle">6</text>
<line x1="500.2" y1="446.5" x2="500.2" y2="450.3" stroke="#484848" stroke-width="1.2"/>
<text transform="translate(500.2 462.3) scale(1 1.06)" font-size="9.3" text-anchor="middle">9</text>
<line x1="343.6" y1="341.6" x2="501.8" y2="341.6" stroke="#111" stroke-width="1.7" stroke-dasharray="2.1 2.25"/>
<text x="305.1" y="375" font-size="10.8" text-anchor="middle" transform="rotate(-90 305.1 375)">Fat mass change (% initial)</text>
<text x="423.5" y="479.8" font-size="10.9" text-anchor="middle">Weeks post-AAV injection</text>
<path d="M361.3 360.5V352.5M358.1 352.5H364.5M361.3 360.5V368.5M358.1 368.5H364.5M381.1 363.5V350.5M377.9 350.5H384.3M381.1 363.5V376.5M377.9 376.5H384.3M398.5 374V356M395.3 356H401.7M398.5 374V392M395.3 392H401.7M408.1 389.5V366.5M404.9 366.5H411.3M408.1 389.5V412.5M404.9 412.5H411.3M413.5 391V364.5M410.3 364.5H416.7M413.5 391V417.5M410.3 417.5H416.7M430.8 411.9V400.3M427.6 400.3H434M430.8 411.9V423.5M427.6 423.5H434M448.2 405.6V396.6M445 396.6H451.4M448.2 405.6V414.6M445 414.6H451.4M465.7 413.7V397.2M462.5 397.2H468.9M465.7 413.7V430.2M462.5 430.2H468.9M475.5 422V412.6M472.3 412.6H478.7M475.5 422V431.4M472.3 431.4H478.7M495.5 420.5V398.5M492.3 398.5H498.7M495.5 420.5V442.5M492.3 442.5H498.7" fill="none" stroke="#3a3a3a" stroke-width="1.15"/>
<path d="M343.6 341.6 L361.3 360.5 L381.1 363.5 L398.5 374 L408.1 389.5 L413.5 391 L430.8 411.9 L448.2 405.6 L465.7 413.7 L475.5 422 L495.5 420.5" fill="none" stroke="#111" stroke-width="1" stroke-linejoin="round"/>
<circle cx="343.6" cy="341.6" r="3.1" fill="#fff" stroke="#111" stroke-width="1.1"/>
<circle cx="361.3" cy="360.5" r="3.1" fill="#fff" stroke="#111" stroke-width="1.1"/>
<circle cx="381.1" cy="363.5" r="3.1" fill="#fff" stroke="#111" stroke-width="1.1"/>
<circle cx="398.5" cy="374" r="3.1" fill="#fff" stroke="#111" stroke-width="1.1"/>
<circle cx="408.1" cy="389.5" r="3.1" fill="#fff" stroke="#111" stroke-width="1.1"/>
<circle cx="413.5" cy="391" r="3.1" fill="#fff" stroke="#111" stroke-width="1.1"/>
<circle cx="430.8" cy="411.9" r="3.1" fill="#fff" stroke="#111" stroke-width="1.1"/>
<circle cx="448.2" cy="405.6" r="3.1" fill="#fff" stroke="#111" stroke-width="1.1"/>
<circle cx="465.7" cy="413.7" r="3.1" fill="#fff" stroke="#111" stroke-width="1.1"/>
<circle cx="475.5" cy="422" r="3.1" fill="#fff" stroke="#111" stroke-width="1.1"/>
<circle cx="495.5" cy="420.5" r="3.1" fill="#fff" stroke="#111" stroke-width="1.1"/>
<path d="M361.3 355.3V347.3M358.1 347.3H364.5M361.3 355.3V363.3M358.1 363.3H364.5M381.1 363V348M377.9 348H384.3M381.1 363V378M377.9 378H384.3M398.5 377.1V357.1M395.3 357.1H401.7M398.5 377.1V397.1M395.3 397.1H401.7M408.1 388.7V369.2M404.9 369.2H411.3M408.1 388.7V408.2M404.9 408.2H411.3M413.5 391.5V371.5M410.3 371.5H416.7M413.5 391.5V411.5M410.3 411.5H416.7M430.8 383.6V367.6M427.6 367.6H434M430.8 383.6V399.6M427.6 399.6H434M448.2 399.2V381.7M445 381.7H451.4M448.2 399.2V416.7M445 416.7H451.4M465.7 403.5V377.5M462.5 377.5H468.9M465.7 403.5V429.5M462.5 429.5H468.9M475.5 407.1V385.6M472.3 385.6H478.7M475.5 407.1V428.6M472.3 428.6H478.7M495.5 408.3V390.8M492.3 390.8H498.7M495.5 408.3V425.8M492.3 425.8H498.7" fill="none" stroke="#3a3a3a" stroke-width="1.15"/>
<path d="M343.6 341.6 L361.3 355.3 L381.1 363 L398.5 377.1 L408.1 388.7 L413.5 391.5 L430.8 383.6 L448.2 399.2 L465.7 403.5 L475.5 407.1 L495.5 408.3" fill="none" stroke="#111" stroke-width="1" stroke-linejoin="round"/>
<rect x="340.5" y="338.5" width="6.2" height="6.2" fill="#fff" stroke="#111" stroke-width="1.1"/>
<rect x="358.2" y="352.2" width="6.2" height="6.2" fill="#fff" stroke="#111" stroke-width="1.1"/>
<rect x="378" y="359.9" width="6.2" height="6.2" fill="#fff" stroke="#111" stroke-width="1.1"/>
<rect x="395.4" y="374" width="6.2" height="6.2" fill="#fff" stroke="#111" stroke-width="1.1"/>
<rect x="405" y="385.6" width="6.2" height="6.2" fill="#fff" stroke="#111" stroke-width="1.1"/>
<rect x="410.4" y="388.4" width="6.2" height="6.2" fill="#fff" stroke="#111" stroke-width="1.1"/>
<rect x="427.7" y="380.5" width="6.2" height="6.2" fill="#fff" stroke="#111" stroke-width="1.1"/>
<rect x="445.1" y="396.1" width="6.2" height="6.2" fill="#fff" stroke="#111" stroke-width="1.1"/>
<rect x="462.6" y="400.4" width="6.2" height="6.2" fill="#fff" stroke="#111" stroke-width="1.1"/>
<rect x="472.4" y="404" width="6.2" height="6.2" fill="#fff" stroke="#111" stroke-width="1.1"/>
<rect x="492.4" y="405.2" width="6.2" height="6.2" fill="#fff" stroke="#111" stroke-width="1.1"/>
<path d="M361.3 344.6V328.6M358.1 328.6H364.5M361.3 344.6V360.6M358.1 360.6H364.5M381.1 372.3V350.3M377.9 350.3H384.3M381.1 372.3V394.3M377.9 394.3H384.3M398.5 340.2V335.2M395.3 335.2H401.7M398.5 340.2V345.2M395.3 345.2H401.7M408.1 369.5V339.5M404.9 339.5H411.3M408.1 369.5V399.5M404.9 399.5H411.3M413.5 353.9V333.9M410.3 333.9H416.7M413.5 353.9V373.9M410.3 373.9H416.7M430.8 351.5V338.5M427.6 338.5H434M430.8 351.5V364.5M427.6 364.5H434M448.2 336.8V325.3M445 325.3H451.4M448.2 336.8V348.3M445 348.3H451.4M465.7 309.8V290.8M462.5 290.8H468.9M465.7 309.8V328.8M462.5 328.8H468.9M475.5 330.2V317.2M472.3 317.2H478.7M475.5 330.2V343.2M472.3 343.2H478.7M495.5 327.2V308.6M492.3 308.6H498.7M495.5 327.2V345.8M492.3 345.8H498.7" fill="none" stroke="#3a3a3a" stroke-width="1.15"/>
<path d="M343.6 341.6 L361.3 344.6 L381.1 372.3 L398.5 340.2 L408.1 369.5 L413.5 353.9 L430.8 351.5 L448.2 336.8 L465.7 309.8 L475.5 330.2 L495.5 327.2" fill="none" stroke="#111" stroke-width="1" stroke-linejoin="round"/>
<rect x="340.5" y="338.5" width="6.2" height="6.2" fill="#383838" stroke="#111" stroke-width="1.1"/>
<rect x="358.2" y="341.5" width="6.2" height="6.2" fill="#383838" stroke="#111" stroke-width="1.1"/>
<rect x="378" y="369.2" width="6.2" height="6.2" fill="#383838" stroke="#111" stroke-width="1.1"/>
<rect x="395.4" y="337.1" width="6.2" height="6.2" fill="#383838" stroke="#111" stroke-width="1.1"/>
<rect x="405" y="366.4" width="6.2" height="6.2" fill="#383838" stroke="#111" stroke-width="1.1"/>
<rect x="410.4" y="350.8" width="6.2" height="6.2" fill="#383838" stroke="#111" stroke-width="1.1"/>
<rect x="427.7" y="348.4" width="6.2" height="6.2" fill="#383838" stroke="#111" stroke-width="1.1"/>
<rect x="445.1" y="333.7" width="6.2" height="6.2" fill="#383838" stroke="#111" stroke-width="1.1"/>
<rect x="462.6" y="306.7" width="6.2" height="6.2" fill="#383838" stroke="#111" stroke-width="1.1"/>
<rect x="472.4" y="327.1" width="6.2" height="6.2" fill="#383838" stroke="#111" stroke-width="1.1"/>
<rect x="492.4" y="324.1" width="6.2" height="6.2" fill="#383838" stroke="#111" stroke-width="1.1"/>
<path d="M361.3 348.9V335.9M358.1 335.9H364.5M361.3 348.9V361.9M358.1 361.9H364.5M381.1 362.1V351.1M377.9 351.1H384.3M381.1 362.1V373.1M377.9 373.1H384.3M398.5 351.7V341.7M395.3 341.7H401.7M398.5 351.7V361.7M395.3 361.7H401.7M408.1 356.8V343.8M404.9 343.8H411.3M408.1 356.8V369.8M404.9 369.8H411.3M413.5 351.7V338.7M410.3 338.7H416.7M413.5 351.7V364.7M410.3 364.7H416.7M430.8 371.3V361.3M427.6 361.3H434M430.8 371.3V381.3M427.6 381.3H434M448.2 366.7V360.2M445 360.2H451.4M448.2 366.7V373.2M445 373.2H451.4M465.7 367.7V357.2M462.5 357.2H468.9M465.7 367.7V378.2M462.5 378.2H468.9M475.5 381.3V364.8M472.3 364.8H478.7M475.5 381.3V397.8M472.3 397.8H478.7M495.5 370.4V358.7M492.3 358.7H498.7M495.5 370.4V382.1M492.3 382.1H498.7" fill="none" stroke="#3a3a3a" stroke-width="1.15"/>
<path d="M343.6 341.6 L361.3 348.9 L381.1 362.1 L398.5 351.7 L408.1 356.8 L413.5 351.7 L430.8 371.3 L448.2 366.7 L465.7 367.7 L475.5 381.3 L495.5 370.4" fill="none" stroke="#111" stroke-width="1" stroke-linejoin="round"/>
<circle cx="343.6" cy="341.6" r="3.1" fill="#383838" stroke="#111" stroke-width="1.1"/>
<circle cx="361.3" cy="348.9" r="3.1" fill="#383838" stroke="#111" stroke-width="1.1"/>
<circle cx="381.1" cy="362.1" r="3.1" fill="#383838" stroke="#111" stroke-width="1.1"/>
<circle cx="398.5" cy="351.7" r="3.1" fill="#383838" stroke="#111" stroke-width="1.1"/>
<circle cx="408.1" cy="356.8" r="3.1" fill="#383838" stroke="#111" stroke-width="1.1"/>
<circle cx="413.5" cy="351.7" r="3.1" fill="#383838" stroke="#111" stroke-width="1.1"/>
<circle cx="430.8" cy="371.3" r="3.1" fill="#383838" stroke="#111" stroke-width="1.1"/>
<circle cx="448.2" cy="366.7" r="3.1" fill="#383838" stroke="#111" stroke-width="1.1"/>
<circle cx="465.7" cy="367.7" r="3.1" fill="#383838" stroke="#111" stroke-width="1.1"/>
<circle cx="475.5" cy="381.3" r="3.1" fill="#383838" stroke="#111" stroke-width="1.1"/>
<circle cx="495.5" cy="370.4" r="3.1" fill="#383838" stroke="#111" stroke-width="1.1"/>
<text x="506.5" y="329.3" font-size="9.3" font-weight="bold">a</text>
<text x="506.6" y="371" font-size="9.0" font-weight="bold">a,c</text>
<text x="506.6" y="408.6" font-size="9.0" font-weight="bold">b,c</text>
<text x="506.6" y="424.2" font-size="9.0" font-weight="bold">b,c</text>
</svg></body></html>
